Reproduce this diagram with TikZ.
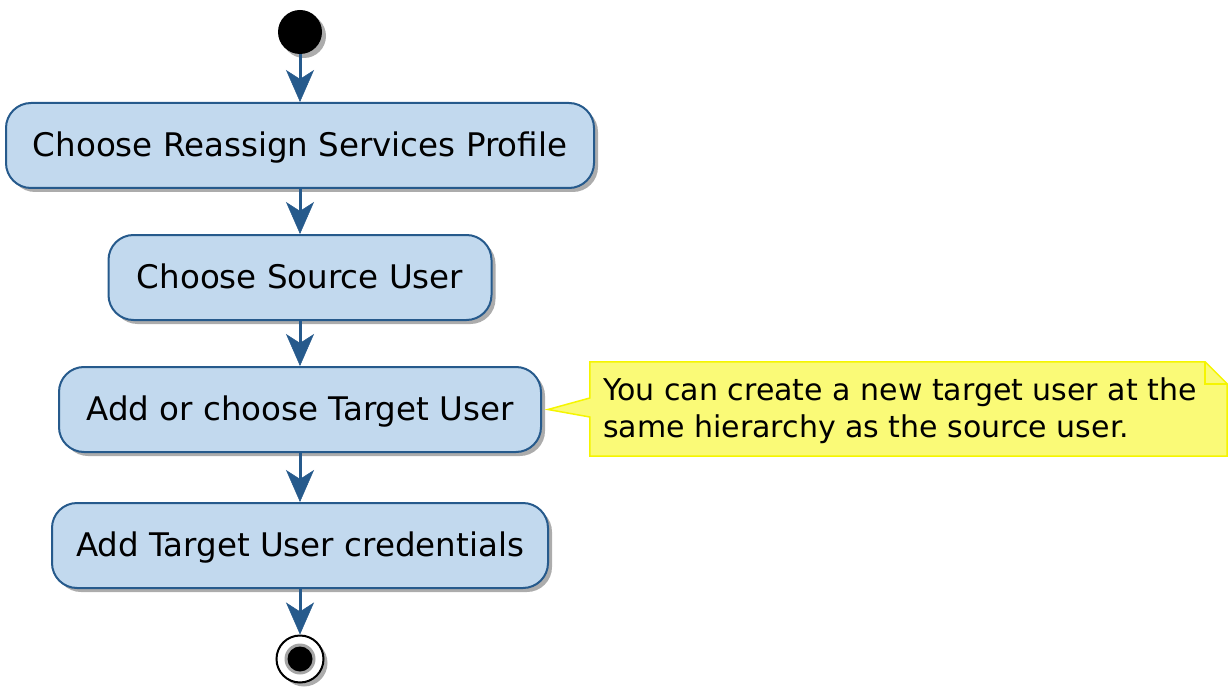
\documentclass[tikz,border=0pt]{standalone}
\usepackage{fontspec}
\setmainfont{DejaVu Sans}
\usetikzlibrary{arrows.meta,shadows,calc}
\definecolor{bfill}{HTML}{C2D9EE}
\definecolor{bline}{HTML}{265A8C}
\definecolor{nfill}{HTML}{FAFA77}
\definecolor{nline}{HTML}{F5F500}
\begin{document}
\begin{tikzpicture}[x=1pt,y=-1pt,
  shad/.style={drop shadow={shadow xshift=4pt,shadow yshift=-4pt,opacity=0.5,fill=black!65}},
  act/.style={draw=bline,fill=bfill,line width=2pt,rounded corners=25pt,minimum height=85pt,inner sep=0pt,text height=26pt,text depth=4pt,font=\fontsize{32.5}{39}\selectfont,shad},
  flow/.style={draw=bline,line width=3pt,-{Stealth[length=32pt,width=28pt,inset=9pt,line width=0.5pt]}},
  notetxt/.style={anchor=base west,inner sep=0pt,font=\fontsize{30}{37}\selectfont},
]
\useasboundingbox (0,0) rectangle (1231,687);
\node[circle,fill=black,minimum size=44pt,inner sep=0pt,shad] (start) at (300,32) {};
\node[act,minimum width=588pt] (b1) at (300,145.5) {Choose Reassign Services Profile};
\node[act,minimum width=383pt] (b2) at (300,277.5) {Choose Source User};
\node[act,minimum width=482pt] (b3) at (300,409.5) {Add or choose Target User};
\node[act,minimum width=496pt] (b4) at (300,545.5) {Add Target User credentials};
\node[circle,draw=black,line width=2pt,fill=white,minimum size=47pt,inner sep=0pt,shad] (end) at (300,659) {};
\fill[black!50,opacity=0.7] (end.center) circle (15.5pt);
\node[circle,fill=black,minimum size=25pt,inner sep=0pt] (endin) at (end.center) {};

\draw[flow] (start.south) -- (b1.north);
\draw[flow] (b1.south) -- (b2.north);
\draw[flow] (b2.south) -- (b3.north);
\draw[flow] (b3.south) -- (b4.north);
\draw[flow] (b4.south) -- (end.north);

\node[minimum width=637pt,minimum height=94pt,inner sep=0pt] (note) at (908.5,409) {};
\draw[nline,fill=nfill,line width=1.5pt,line join=miter]
  (note.north west) -- ($(note.north east)+(-22,0)$) -- ($(note.north east)+(0,22)$)
  -- (note.south east) -- (note.south west) -- ($(note.west)+(0,8)$)
  -- ($(b3.east)+(6,0)$) -- ($(note.west)+(0,-11)$) -- cycle;
\draw[nline,line width=1.5pt] ($(note.north east)+(-22,0)$) -- ($(note.north east)+(-22,22)$) -- ($(note.north east)+(0,22)$);
\node[notetxt] (n1) at (603,400) {You can create a new target user at the};
\node[notetxt] (n2) at (603,437) {same hierarchy as the source user.};
\end{tikzpicture}
\end{document}
